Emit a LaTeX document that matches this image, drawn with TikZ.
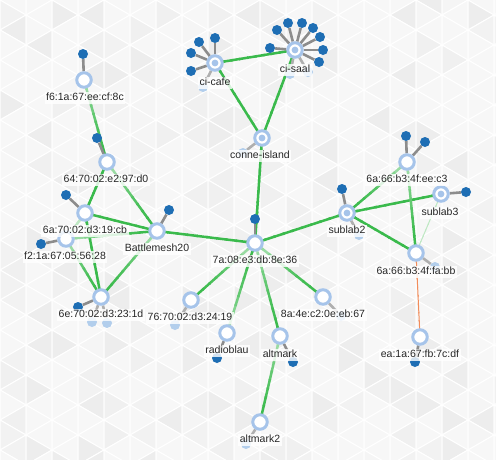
\documentclass[tikz,border=0pt]{standalone}
\usepackage{fontspec}
\setmainfont{Liberation Sans}
\usetikzlibrary{calc}
\definecolor{linkg}{RGB}{58,186,76}
\definecolor{lightg}{RGB}{190,232,195}
\definecolor{nodering}{RGB}{166,196,234}
\definecolor{clientblue}{RGB}{30,110,180}
\definecolor{clientpale}{RGB}{178,206,236}
\definecolor{clientgrey}{RGB}{140,140,140}
\definecolor{linkorange}{RGB}{242,140,90}
\pgfdeclarelayer{bglayer}
\pgfdeclarelayer{linklayer}
\pgfdeclarelayer{labellayer}
\pgfsetlayers{bglayer,linklayer,main,labellayer}
% #1 = start (light end), #2 = end
\newcommand{\meshlink}[5]{%
  \foreach \k in {0,...,9}{%
    \pgfmathsetmacro\pa{\k/10}%
    \pgfmathsetmacro\pb{min((\k+1.2)/10,1)}%
    \pgfmathtruncatemacro\mx{100*(1-(\k+0.5)/10)^2}%
    \draw[line width=#5,color=#3!\mx!#4] ($(#1)!\pa!(#2)$) -- ($(#1)!\pb!(#2)$);}}
\newcommand{\clients}[2]{%
  \foreach \p [count=\c] in {#2}{%
    \node[clientdot] (#1-c\c) at \p {};
    \draw[clientline] (#1) -- (#1-c\c);}}
\newcommand{\paleclients}[2]{%
  \foreach \p [count=\c] in {#2}{%
    \node[clientdot, fill=clientpale] (#1-p\c) at \p {};
    \draw[clientline, draw=clientgrey!70] (#1) -- (#1-p\c);}}
\tikzset{
  router/.style={circle, draw=nodering, line width=3pt, fill=white, minimum size=14.5pt, inner sep=0pt},
  gateway/.style={router, path picture={\fill[nodering] (path picture bounding box.center) circle (3.4pt);}},
  clientdot/.style={circle, fill=clientblue, minimum size=10pt, inner sep=0pt},
  clientline/.style={draw=clientgrey, line width=2.6pt},
  lbl/.style={fill=white, fill opacity=0.8, text opacity=1, inner xsep=1.5pt, inner ysep=1.2pt,
    text height=7.8pt, text depth=2pt, font=\fontsize{10.5}{12}\selectfont, text=black!85},
}
\begin{document}
\begin{tikzpicture}[x=1pt,y=-1pt]
\useasboundingbox (0,0) rectangle (496,459);
\begin{pgfonlayer}{bglayer}
\begin{scope}
\clip (0,0) rectangle (496,459);
\fill[black!4] (0,0) rectangle (496,459);
\pgfmathsetseed{7}
\def\tw{26}\def\ts{30}
\foreach \i in {0,...,19}{%
  \foreach \j in {-1,...,16}{%
    \pgfmathsetmacro\xa{\i*\tw}%
    \pgfmathsetmacro\xb{(\i+1)*\tw}%
    \pgfmathsetmacro\ya{\j*\ts+mod(\i,2)*\ts/2}%
    \pgfmathrandominteger{\ra}{0}{9}%
    \pgfmathrandominteger{\rb}{0}{9}%
    \pgfmathtruncatemacro\sa{3+max(0,\ra-5)}%
    \pgfmathtruncatemacro\sb{3+max(0,\rb-5)}%
    \filldraw[fill=black!\sa, draw=white, line width=1pt] (\xa,\ya) -- (\xa,\ya+\ts) -- (\xb,\ya+\ts/2) -- cycle;
    \filldraw[fill=black!\sb, draw=white, line width=1pt] (\xb,\ya+\ts/2) -- (\xb,\ya+1.5*\ts) -- (\xa,\ya+\ts) -- cycle;
  }}
\end{scope}
\end{pgfonlayer}

% nodes
\node[gateway] (cicafe) at (215,63) {};
\node[gateway] (cisaal) at (295,50) {};
\node[gateway] (conne) at (262,138) {};
\node[router] (f6) at (84,80) {};
\node[router] (n64) at (107,162) {};
\node[router] (n6a70) at (85,213) {};
\node[router] (f2) at (66,239) {};
\node[router] (bm) at (157,231) {};
\node[router] (n6e) at (101,297) {};
\node[router] (n76) at (191,300) {};
\node[router] (n7a) at (255,243) {};
\node[router] (radio) at (227,333) {};
\node[router] (altmark) at (280,336) {};
\node[router] (altmark2) at (260,422) {};
\node[router] (n8a) at (323,297) {};
\node[gateway] (sublab2) at (347,213) {};
\node[gateway] (sublab3) at (441,194) {};
\node[router] (eec3) at (407,162) {};
\node[router] (fabb) at (416,253) {};
\node[router] (ea) at (420,337) {};

\begin{pgfonlayer}{linklayer}
\meshlink{cicafe}{cisaal}{linkg}{linkg}{2.5pt}
\meshlink{cicafe}{conne}{linkg}{linkg}{2.5pt}
\meshlink{cisaal}{conne}{linkg}{linkg}{2.5pt}
\meshlink{conne}{n7a}{linkg}{linkg}{2.5pt}
\meshlink{f6}{n64}{lightg}{linkg}{2.5pt}
\meshlink{n64}{n6a70}{linkg}{linkg}{2.5pt}
\meshlink{n64}{bm}{lightg}{linkg}{2.5pt}
\meshlink{n6a70}{bm}{linkg}{linkg}{2.5pt}
\meshlink{n6a70}{n6e}{linkg}{linkg}{2.5pt}
\meshlink{n6a70}{f2}{lightg}{lightg}{2.5pt}
\meshlink{f2}{bm}{lightg}{linkg}{2.5pt}
\meshlink{f2}{n6e}{lightg}{linkg}{2.5pt}
\meshlink{bm}{n6e}{lightg}{linkg}{2.5pt}
\meshlink{bm}{n7a}{linkg}{linkg}{2.5pt}
\meshlink{n7a}{sublab2}{linkg}{linkg}{2.5pt}
\meshlink{n7a}{n76}{lightg}{linkg}{2.5pt}
\meshlink{radio}{n7a}{lightg}{linkg}{2.5pt}
\meshlink{n7a}{altmark}{lightg}{linkg}{2.5pt}
\meshlink{n7a}{n8a}{lightg}{linkg}{2.5pt}
\meshlink{altmark}{altmark2}{lightg}{linkg}{2.5pt}
\meshlink{eec3}{sublab2}{lightg}{linkg}{2.5pt}
\meshlink{sublab2}{sublab3}{linkg}{linkg}{2.5pt}
\meshlink{sublab2}{fabb}{linkg}{linkg}{2.5pt}
\meshlink{eec3}{fabb}{lightg}{linkg}{2.5pt}
\meshlink{sublab3}{fabb}{lightg}{lightg}{1pt}
\meshlink{fabb}{ea}{linkorange}{linkorange}{1pt}

\clients{cicafe}{(199,42),(215,38),(191,53),(191,71)}
\paleclients{cicafe}{(203,87)}
\clients{cisaal}{(277,30),(288,23),(302,23),(313,28),(320,37),(323,50),(319,62),(270,48)}
\paleclients{cisaal}{(290,74),(308,72)}
\paleclients{conne}{(243,153)}
\clients{f6}{(83,54)}
\clients{n64}{(97,138)}
\clients{n6a70}{(66,195)}
\clients{f2}{(41,244)}
\clients{bm}{(169,210)}
\clients{n6e}{(78,307)}
\paleclients{n6e}{(92,322),(107,323)}
\paleclients{n76}{(175,325)}
\clients{n7a}{(255,219)}
\clients{radio}{(217,358)}
\clients{altmark}{(293,362)}
\paleclients{altmark2}{(246,444)}
\paleclients{n8a}{(341,316)}
\clients{sublab2}{(342,189)}
\paleclients{sublab2}{(359,235)}
\clients{sublab3}{(466,192)}
\clients{eec3}{(406,136),(425,142)}
\paleclients{fabb}{(435,267)}
\clients{ea}{(415,362)}
\end{pgfonlayer}

\begin{pgfonlayer}{labellayer}
\node[lbl] (l-cicafe) at (215,83) {ci-cafe};
\node[lbl] (l-cisaal) at (295,70) {ci-saal};
\node[lbl] (l-conne) at (260,156) {conne-island};
\node[lbl] (l-f6) at (85,98) {f6:1a:67:ee:cf:8c};
\node[lbl] (l-n64) at (106,180) {64:70:02:e2:97:d0};
\node[lbl] (l-n6a70) at (85,231) {6a:70:02:d3:19:cb};
\node[lbl] (l-f2) at (65,257) {f2:1a:67:05:56:28};
\node[lbl] (l-bm) at (157,249) {Battlemesh20};
\node[lbl] (l-n6e) at (101,315) {6e:70:02:d3:23:1d};
\node[lbl] (l-n76) at (190,318) {76:70:02:d3:24:19};
\node[lbl] (l-n7a) at (255,261) {7a:08:e3:db:8e:36};
\node[lbl] (l-radio) at (227,351) {radioblau};
\node[lbl] (l-altmark) at (280,355) {altmark};
\node[lbl] (l-altmark2) at (260,440) {altmark2};
\node[lbl] (l-n8a) at (323,315) {8a:4e:c2:0e:eb:67};
\node[lbl] (l-sublab2) at (347,231) {sublab2};
\node[lbl] (l-sublab3) at (440,213) {sublab3};
\node[lbl] (l-eec3) at (407,180) {6a:66:b3:4f:ee:c3};
\node[lbl] (l-fabb) at (416,272) {6a:66:b3:4f:fa:bb};
\node[lbl] (l-ea) at (420,355) {ea:1a:67:fb:7c:df};
\end{pgfonlayer}
\end{tikzpicture}
\end{document}
